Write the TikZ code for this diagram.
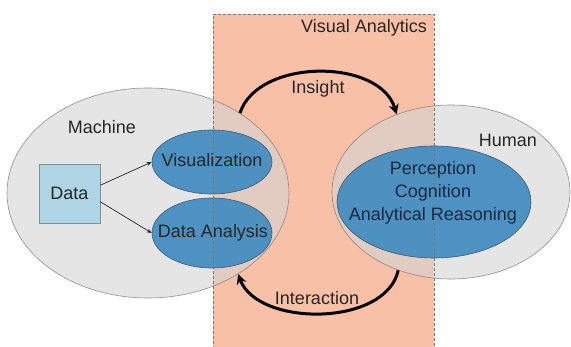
\documentclass[tikz,border=0pt]{standalone}
\usepackage{fontspec}
\setmainfont{Liberation Sans}
\usetikzlibrary{shapes.geometric,arrows.meta}
\definecolor{salmon}{RGB}{248,192,166}
\definecolor{greyfill}{RGB}{212,212,212}
\definecolor{greyline}{RGB}{120,120,120}
\definecolor{bluefill}{RGB}{62,138,192}
\definecolor{blueline}{RGB}{60,90,110}
\definecolor{datafill}{RGB}{175,212,228}
\definecolor{dataline}{RGB}{125,145,155}
\definecolor{txt}{RGB}{38,38,38}
\definecolor{txtblue}{RGB}{25,40,65}
\tikzset{
  lbl/.style={font=\fontsize{18}{23}\selectfont, text=txt, inner sep=0pt},
  outer/.style={ellipse, fill=greyfill, fill opacity=0.6, draw=greyline, draw opacity=0.8, line width=0.6pt, inner sep=0pt},
  inner/.style={ellipse, fill=bluefill, fill opacity=0.9, draw=blueline, line width=0.6pt, inner sep=0pt, text opacity=1, font=\fontsize{18}{23}\selectfont, text=txt},
  bigarrow/.style={line width=3pt, -{Stealth[length=10pt,width=10pt]}},
  smallarrow/.style={line width=0.7pt, draw=txt, -{Stealth[length=5pt,width=4pt]}}
}
\begin{document}
\begin{tikzpicture}[x=1pt,y=-1pt]
\clip (0,0) rectangle (571,347);
\fill[white] (0,0) rectangle (571,347);
% Visual analytics area
\fill[salmon] (213,14) rectangle (434,349);
% outer ellipses
\node[outer, minimum width=282pt, minimum height=210pt] (machine) at (148,193) {};
\node[outer, minimum width=238pt, minimum height=174pt] (human) at (451,192) {};
% inner ellipses
\node[inner, minimum width=120pt, minimum height=64pt] (vis) at (212,162) {};
\node[inner, minimum width=120pt, minimum height=70pt] (ana) at (212,233) {};
\node[inner, minimum width=194pt, minimum height=112pt] (hin) at (434,202) {};
% dashed border on top
\draw[greyline, densely dashed, line width=0.6pt] (213,349) -- (213,14) -- (434,14) -- (434,349);
% data box
\node[draw=dataline, fill=datafill, line width=0.6pt, minimum width=61pt, minimum height=59pt, inner sep=0pt, font=\fontsize{18}{23}\selectfont, text=txt] (data) at (69.5,193.5) {Data};
% texts
\node[lbl] (vist) at (212,160) {Visualization};
\node[lbl] (anat) at (213,233) {Data Analysis};
\node[lbl] (macht) at (102,127) {Machine};
\node[lbl] (humt) at (508,140) {Human};
\node[lbl] (vat) at (364,28) {Visual Analytics};
\node[lbl, align=center, text=txtblue] (hint) at (433,193) {Perception\\Cognition\\Analytical Reasoning};
\node[lbl] (ins) at (318,89) {Insight};
\node[lbl] (int) at (317,298) {Interaction};
% data arrows
\draw[smallarrow] (data.15) -- (vis.west);
\draw[smallarrow] (data.-15) -- (ana.west);
% big arrows
\draw[bigarrow] (machine.41.5) .. controls (258,58) and (380,58) .. (human.125);
\draw[bigarrow] (human.236.5) .. controls (386,327) and (258,327) .. (machine.318);
\end{tikzpicture}
\end{document}
